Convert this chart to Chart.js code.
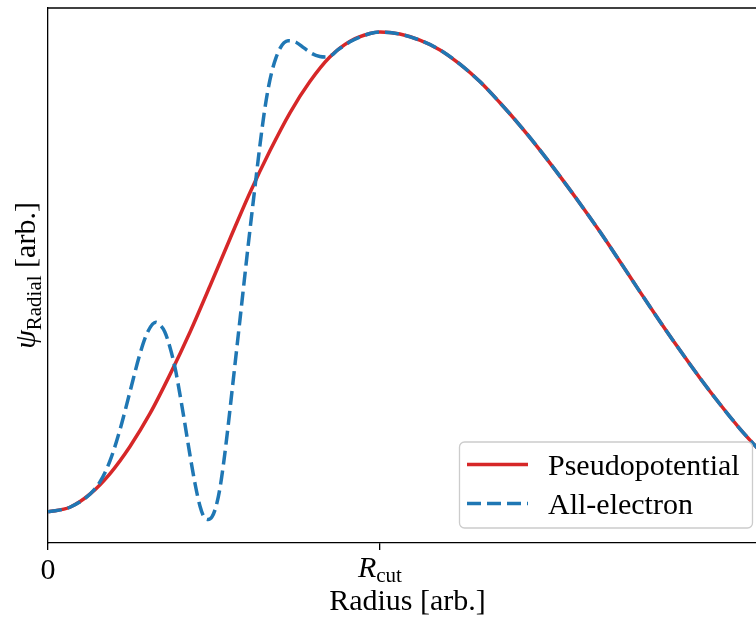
<!DOCTYPE html>
<html>
<head>
<meta charset="utf-8">
<script src="https://cdn.jsdelivr.net/npm/chart.js@4.4.1/dist/chart.umd.min.js"></script>
<style>
  html, body { margin: 0; padding: 0; background: #fff; }
  canvas { display: block; }
</style>
</head>
<body>
<canvas id="psi" width="756" height="618"></canvas>
<script>
// radius in units of R_cut, psi in arbitrary units
const radiusPseudo = [0, 0.066, 0.127, 0.187, 0.247, 0.307, 0.367, 0.428, 0.488, 0.548, 0.608, 0.669, 0.729, 0.789, 0.849, 0.910, 0.970, 1.0,
  1.060, 1.120, 1.181, 1.241, 1.301, 1.361, 1.422, 1.482, 1.542, 1.602, 1.663, 1.723, 1.783, 1.843, 1.904, 1.964, 2.024, 2.084, 2.145];
const psiPseudo = [0.061, 0.070, 0.096, 0.136, 0.189, 0.253, 0.329, 0.413, 0.503, 0.595, 0.685, 0.768, 0.842, 0.903, 0.951, 0.982, 0.997, 1.0,
  0.996, 0.984, 0.965, 0.937, 0.903, 0.862, 0.817, 0.769, 0.718, 0.665, 0.609, 0.551, 0.492, 0.434, 0.377, 0.323, 0.272, 0.224, 0.180];

const radiusAE = [0, 0.066, 0.127, 0.157, 0.187, 0.217, 0.247, 0.277, 0.301, 0.325, 0.337, 0.352, 0.367, 0.383, 0.398, 0.413, 0.428,
  0.443, 0.458, 0.470, 0.482, 0.494, 0.506, 0.518, 0.530, 0.542, 0.554, 0.578, 0.602, 0.627, 0.639, 0.651, 0.663, 0.675,
  0.687, 0.699, 0.711, 0.723, 0.747, 0.771, 0.795, 0.819, 0.837, 0.855, 0.873, 0.892, 0.910, 0.970, 1.0,
  1.060, 1.120, 1.181, 1.241, 1.301, 1.361, 1.422, 1.482, 1.542, 1.602, 1.663, 1.723, 1.783, 1.843, 1.904, 1.964, 2.024, 2.084, 2.145];
const psiAE = [0.061, 0.070, 0.096, 0.120, 0.161, 0.222, 0.296, 0.370, 0.414, 0.432, 0.427, 0.413, 0.384, 0.342, 0.289, 0.231, 0.171,
  0.116, 0.072, 0.051, 0.046, 0.051, 0.071, 0.107, 0.161, 0.225, 0.295, 0.435, 0.576, 0.716, 0.781, 0.840, 0.888, 0.924,
  0.950, 0.968, 0.979, 0.983, 0.980, 0.969, 0.958, 0.952, 0.951, 0.955, 0.965, 0.973, 0.981, 0.997, 1.0,
  0.996, 0.984, 0.965, 0.937, 0.903, 0.862, 0.817, 0.769, 0.718, 0.665, 0.609, 0.551, 0.492, 0.434, 0.377, 0.323, 0.272, 0.224, 0.180];

const xTicks = [0, 1];
const xTickLabels = ['0', 'R_cut'];
const seriesNames = ['Pseudopotential', 'All-electron'];

const xMax = 2.133;      // visible part of the axis
const xAxisEnd = 2.166;  // where the original axes box ends (cropped)

const serif = '"Liberation Serif", "DejaVu Serif", serif';
const RED = '#d62728';
const BLUE = '#1f77b4';

function toPoints(xs, ys) {
  return xs.map((x, i) => ({ x: x, y: ys[i] }));
}

// draws "main" + subscript, returns total width (just measuring if draw is false)
function subText(ctx, x, y, main, mainFont, sub, subFont, subDrop, draw) {
  ctx.font = mainFont;
  const w1 = ctx.measureText(main).width;
  ctx.font = subFont;
  const w2 = ctx.measureText(sub).width;
  if (draw) {
    ctx.font = mainFont;
    ctx.fillText(main, x, y);
    ctx.font = subFont;
    ctx.fillText(sub, x + w1, y + subDrop);
  }
  return w1 + w2;
}

const extras = {
  id: 'extras',
  afterDraw(chart) {
    const ctx = chart.ctx;
    const a = chart.chartArea;
    const xs = chart.scales.x;
    ctx.save();

    // top spine
    ctx.strokeStyle = '#000';
    ctx.lineWidth = 1.3;
    ctx.beginPath();
    ctx.moveTo(a.left, a.top);
    ctx.lineTo(chart.width, a.top);
    ctx.stroke();

    ctx.fillStyle = '#000';
    ctx.textAlign = 'left';
    ctx.textBaseline = 'alphabetic';

    // R_cut tick label
    const px = xs.getPixelForValue(xTicks[1]);
    const fMain = 'italic 30px ' + serif, fSub = '21px ' + serif;
    const wR = subText(ctx, 0, 0, 'R', fMain, 'cut', fSub, 5, false);
    subText(ctx, px - wR / 2, 577, 'R', fMain, 'cut', fSub, 5, true);

    // x title, centred on the full (cropped) axes box
    ctx.font = '30px ' + serif;
    ctx.textAlign = 'center';
    ctx.fillText('Radius [arb.]', (a.left + xs.getPixelForValue(xAxisEnd)) / 2, 610);
    ctx.textAlign = 'left';

    // y title, rotated
    ctx.save();
    ctx.translate(35, (a.top + a.bottom) / 2);
    ctx.rotate(-Math.PI / 2);
    const fPsi = 'italic 30px ' + serif;
    const fR = '21px ' + serif;
    const wPsi = subText(ctx, 0, 0, 'ψ', fPsi, 'Radial', fR, 6, false);
    ctx.font = '30px ' + serif;
    const wArb = ctx.measureText(' [arb.]').width;
    const start = -(wPsi + wArb) / 2;
    subText(ctx, start, 0, 'ψ', fPsi, 'Radial', fR, 6, true);
    ctx.font = '30px ' + serif;
    ctx.fillText(' [arb.]', start + wPsi, 0);
    ctx.restore();

    // legend
    const bw = 293, bh = 86;
    const bx = chart.width - 4 - bw, by = a.bottom - 15.5 - bh;
    ctx.beginPath();
    ctx.roundRect(bx + 0.5, by + 0.5, bw, bh, 5);
    ctx.fillStyle = 'rgba(255,255,255,0.8)';
    ctx.fill();
    ctx.strokeStyle = '#cccccc';
    ctx.lineWidth = 1.3;
    ctx.stroke();

    const rows = [
      { name: seriesNames[0], color: RED, dash: [] },
      { name: seriesNames[1], color: BLUE, dash: [14, 6] }
    ];
    rows.forEach((r, i) => {
      const cy = by + 23 + i * 39;
      ctx.beginPath();
      ctx.setLineDash(r.dash);
      ctx.strokeStyle = r.color;
      ctx.lineWidth = 3.5;
      ctx.moveTo(bx + 8, cy);
      ctx.lineTo(bx + 69, cy);
      ctx.stroke();
      ctx.setLineDash([]);
      ctx.fillStyle = '#000';
      ctx.font = '30px ' + serif;
      ctx.fillText(r.name, bx + 89, cy + 10);
    });

    ctx.restore();
  }
};

new Chart(document.getElementById('psi'), {
  type: 'line',
  data: {
    datasets: [
      {
        label: seriesNames[1],
        data: toPoints(radiusAE, psiAE),
        borderColor: BLUE,
        borderWidth: 3.5,
        borderDash: [14, 6],
        pointRadius: 0,
        fill: false,
        cubicInterpolationMode: 'monotone',
        order: 0
      },
      {
        label: seriesNames[0],
        data: toPoints(radiusPseudo, psiPseudo),
        borderColor: RED,
        borderWidth: 3.5,
        pointRadius: 0,
        fill: false,
        cubicInterpolationMode: 'monotone',
        order: 1
      }
    ]
  },
  options: {
    responsive: false,
    animation: false,
    layout: { padding: { top: 8, right: 0, left: 0, bottom: 0 } },
    plugins: {
      legend: { display: false },
      tooltip: { enabled: false }
    },
    scales: {
      x: {
        type: 'linear',
        min: 0,
        max: xMax,
        afterBuildTicks: (s) => { s.ticks = xTicks.map(v => ({ value: v })); },
        afterFit: (s) => { s.height = 75; },
        ticks: {
          autoSkip: false,
          maxRotation: 0,
          padding: 3,
          color: '#000',
          font: { family: serif, size: 30 },
          callback: (v) => (v === 0 ? xTickLabels[0] : '')
        },
        grid: { drawOnChartArea: false, drawTicks: true, tickLength: 7, color: '#000', lineWidth: 1.3 },
        border: { color: '#000', width: 1.3 }
      },
      y: {
        type: 'linear',
        min: 0,
        max: 1.047,
        afterFit: (s) => { s.width = 48; },
        ticks: { display: false },
        grid: { display: false },
        border: { color: '#000', width: 1.3 }
      }
    }
  },
  plugins: [extras]
});
</script>
</body>
</html>
